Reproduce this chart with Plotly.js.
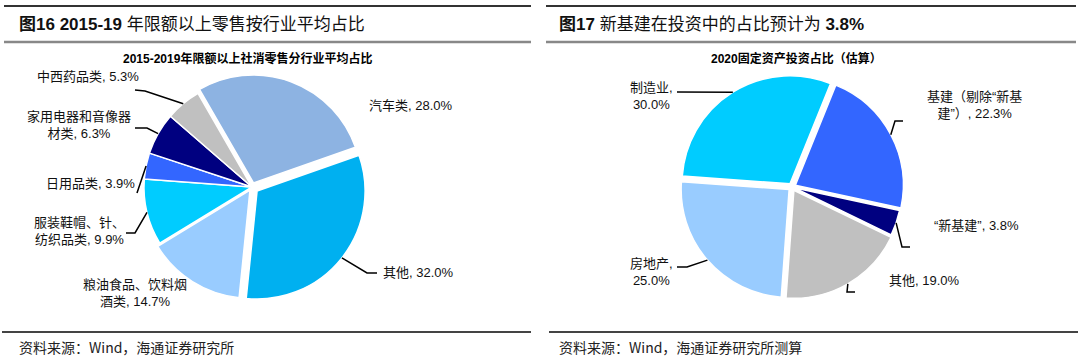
<!DOCTYPE html>
<html>
<head>
<meta charset="utf-8">
<script src="https://cdn.plot.ly/plotly-3.0.1.min.js"></script>
<style>
html,body{margin:0;padding:0;background:#fff;}
#chart{width:1080px;height:361px;}
</style>
</head>
<body>
<div id="chart"></div>
<script>
// ---------------- data ----------------
const retailCategories = ['汽车类', '其他', '粮油食品、饮料烟酒类', '服装鞋帽、针、纺织品类', '日用品类', '家用电器和音像器材类', '中西药品类'];
const retailShares = [28.0, 32.0, 14.7, 9.9, 3.9, 6.3, 5.3];
const retailLabelFormat = ['汽车类, {v}', '其他, {v}', '粮油食品、饮料烟<br>酒类, {v}', '服装鞋帽、针、<br>纺织品类, {v}', '日用品类, {v}', '家用电器和音像器<br>材类, {v}', '中西药品类, {v}'];

const investCategories = ['基建（剔除“新基建”）', '“新基建”', '其他', '房地产', '制造业'];
const investShares = [22.3, 3.8, 19.0, 25.0, 30.0];
const investLabelFormat = ['基建（剔除“新基<br>建”）, {v}', '“新基建”, {v}', '其他, {v}', '房地产,<br>{v}', '制造业,<br>{v}'];

const leftHeading = '<b>图16 2015-19</b> 年限额以上零售按行业平均占比';
const rightHeading = '<b>图17</b> 新基建在投资中的占比预计为 <b>3.8%</b>';
const leftSubtitle = '<b>2015-2019年限额以上社消零售分行业平均占比</b>';
const rightSubtitle = '<b>2020固定资产投资占比（估算）</b>';
const leftSource = '资料来源：Wind，海通证券研究所';
const rightSource = '资料来源：Wind，海通证券研究所测算';

// ---------------- layout settings ----------------
const W = 1080, H = 361;
const retailColors = ['#8DB3E2', '#00B0F0', '#99CCFF', '#00CCFF', '#3366FF', '#000080', '#C0C0C0'];
const investColors = ['#3366FF', '#000080', '#C0C0C0', '#99CCFF', '#00CCFF'];
const retailPull = [0.04, 0.06, 0.035, 0, 0, 0, 0];
const investPull = [0.035, 0.02, 0.035, 0.035, 0.035];
const retailRotation = -30;
const investRotation = 22;
const leftCentre = [252, 187], rightCentre = [792, 187];
const pieRadius = 108;

function domainFor(centre, pulls) {
  const half = pieRadius * (1 + Math.max(...pulls));
  return {
    x: [(centre[0] - half) / W, (centre[0] + half) / W],
    y: [1 - (centre[1] + half) / H, 1 - (centre[1] - half) / H]
  };
}
const leftDomain = domainFor(leftCentre, retailPull);
const rightDomain = domainFor(rightCentre, investPull);

// label placement (pixels): text centre, leader knee and end (null = no leader)
const retailLabelPos = [[411, 105], [418, 272], [135, 293], [79, 231], [90, 183], [79, 125], [88, 77]];
const retailLeader = [null, [[367, 273], [377, 273]], null, [[135, 233], [126, 233]], [[137, 193]], [[147, 128], [135, 128]], [[145, 91], [135, 90]]];
const investLabelPos = [[974, 105], [976, 225], [924, 280], [651, 272], [651, 96]];
const investLeader = [[[895, 121], [903, 121]], [[902, 247], [910, 247]], [[847, 292], [855, 292]], [[687, 267], [677, 267]], [[677, 92]]];

const px = x => x / W;
const py = y => 1 - y / H;
const labelFont = {family: 'Liberation Sans, Noto Sans CJK SC, sans-serif', size: 13, color: '#111'};

function pieGeom(domain, pulls) {
  const maxPull = Math.max(...pulls);
  const bw = W * (domain.x[1] - domain.x[0]);
  const bh = H * (domain.y[1] - domain.y[0]);
  return {
    cx: W * (domain.x[0] + domain.x[1]) / 2,
    cy: H * (1 - (domain.y[0] + domain.y[1]) / 2),
    r: Math.min(bw, bh) / 2 / (1 + maxPull)
  };
}

function buildLabels(values, fmt, pos, leaders, domain, pulls, rotation, annotations, shapes) {
  const g = pieGeom(domain, pulls);
  const total = values.reduce((a, b) => a + b, 0);
  let acc = 0;
  values.forEach((v, i) => {
    const mid = (rotation + (acc + v / 2) / total * 360) * Math.PI / 180;
    acc += v;
    annotations.push({
      xref: 'paper', yref: 'paper', x: px(pos[i][0]), y: py(pos[i][1]),
      xanchor: 'center', yanchor: 'middle', showarrow: false, align: 'center',
      text: fmt[i].replace('{v}', v.toFixed(1) + '%'), font: labelFont
    });
    if (leaders[i]) {
      const R = g.r * (1 + pulls[i]);
      const ex = g.cx + R * Math.sin(mid);
      const ey = g.cy - R * Math.cos(mid);
      let d = 'M ' + px(ex) + ' ' + py(ey);
      leaders[i].forEach(p => { d += ' L ' + px(p[0]) + ' ' + py(p[1]); });
      shapes.push({type: 'path', xref: 'paper', yref: 'paper', path: d, line: {color: '#000', width: 1.5}});
    }
  });
}

const annotations = [];
const shapes = [];

// rule lines
const rule = (x0, x1, y, color, w) => ({type: 'line', xref: 'paper', yref: 'paper', x0: px(x0), x1: px(x1), y0: py(y), y1: py(y), line: {color: color, width: w}});
shapes.push(rule(4, 531, 6, '#333', 2), rule(4, 531, 42, '#888', 2.5), rule(2, 531, 332, '#444', 2));
shapes.push(rule(546, 1076, 6, '#333', 2), rule(546, 1076, 42, '#888', 2.5), rule(549, 1078, 332, '#444', 2));

const headFont = {family: 'Liberation Sans, Noto Sans CJK SC, sans-serif', size: 17, color: '#111'};
annotations.push({xref: 'paper', yref: 'paper', x: px(17), y: py(24), xanchor: 'left', yanchor: 'middle', showarrow: false, text: leftHeading, font: headFont});
annotations.push({xref: 'paper', yref: 'paper', x: px(557), y: py(24), xanchor: 'left', yanchor: 'middle', showarrow: false, text: rightHeading, font: headFont});
const subFont = {family: 'Liberation Sans, Noto Sans CJK SC, sans-serif', size: 12, color: '#000'};
annotations.push({xref: 'paper', yref: 'paper', x: px(247), y: py(58), xanchor: 'center', yanchor: 'middle', showarrow: false, text: leftSubtitle, font: subFont});
annotations.push({xref: 'paper', yref: 'paper', x: px(796), y: py(58), xanchor: 'center', yanchor: 'middle', showarrow: false, text: rightSubtitle, font: subFont});
const srcFont = {family: 'Liberation Sans Narrow, Noto Sans CJK SC, sans-serif', size: 14, color: '#222'};
annotations.push({xref: 'paper', yref: 'paper', x: px(17), y: py(347), xanchor: 'left', yanchor: 'middle', showarrow: false, text: leftSource, font: srcFont});
annotations.push({xref: 'paper', yref: 'paper', x: px(557), y: py(347), xanchor: 'left', yanchor: 'middle', showarrow: false, text: rightSource, font: srcFont});

buildLabels(retailShares, retailLabelFormat, retailLabelPos, retailLeader, leftDomain, retailPull, retailRotation, annotations, shapes);
buildLabels(investShares, investLabelFormat, investLabelPos, investLeader, rightDomain, investPull, investRotation, annotations, shapes);

const traces = [
  {
    type: 'pie', labels: retailCategories, values: retailShares, sort: false, direction: 'clockwise',
    rotation: retailRotation, pull: retailPull, domain: leftDomain, textinfo: 'none', hoverinfo: 'label+percent',
    marker: {colors: retailColors, line: {color: '#fff', width: 1.5}}, showlegend: false
  },
  {
    type: 'pie', labels: investCategories, values: investShares, sort: false, direction: 'clockwise',
    rotation: investRotation, pull: investPull, domain: rightDomain, textinfo: 'none', hoverinfo: 'label+percent',
    marker: {colors: investColors, line: {color: '#fff', width: 1.5}}, showlegend: false
  }
];

const layout = {
  width: W, height: H,
  margin: {l: 0, r: 0, t: 0, b: 0},
  paper_bgcolor: '#fff', plot_bgcolor: '#fff',
  showlegend: false,
  annotations: annotations,
  shapes: shapes
};

Plotly.newPlot('chart', traces, layout, {displayModeBar: false, staticPlot: true});
</script>
</body>
</html>
